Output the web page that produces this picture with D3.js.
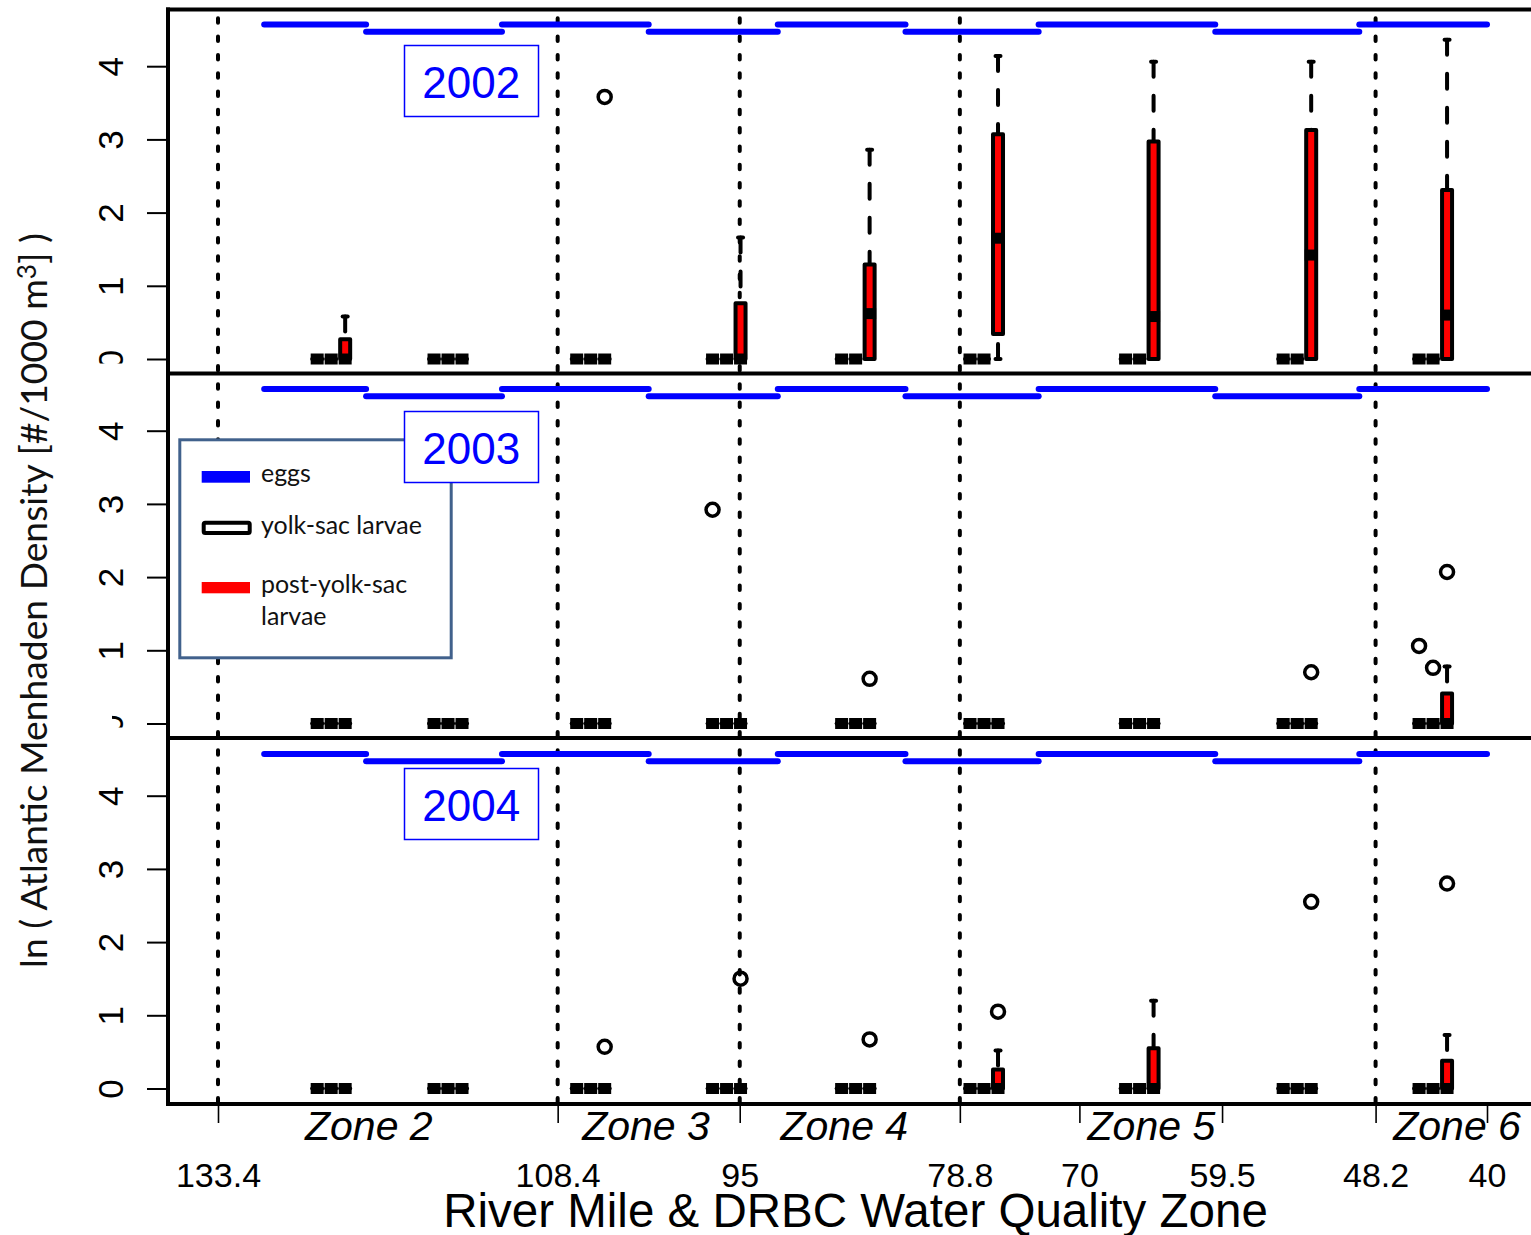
<!DOCTYPE html>
<html><head><meta charset="utf-8">
<script src="https://cdn.jsdelivr.net/npm/d3@7"></script>
<style>body{margin:0;background:#fff}</style>
</head><body>
<svg id="c" width="1531" height="1235"></svg>
<script>
// ---------------- data ----------------
const years = ["2002", "2003", "2004"];
// river mile of the first box of each station triplet
const stationMile = [126.1, 117.5, 107.0, 97.0, 87.5, 78.05, 66.6, 55.0, 45.0];
const zoneBoundaries = [133.4, 108.4, 95, 78.8, 48.2];
const xTickMiles = [133.4, 108.4, 95, 78.8, 70, 59.5, 48.2, 40];
const zoneNames = ["Zone 2", "Zone 3", "Zone 4", "Zone 5", "Zone 6"];
const zoneLabelMile = [122.3, 101.9, 87.3, 64.7, 42.2];
const eggReachBreaks = [130, 122.5, 112.5, 101.7, 92.2, 82.8, 73.0, 60.0, 49.4, 40.0];
const eggReachLevel = [4.57, 4.47, 4.57, 4.47, 4.57, 4.47, 4.57, 4.47, 4.57];
const yTicks = [0, 1, 2, 3, 4];
const seriesNames = ["eggs", "yolk-sac larvae", "post-yolk-sac larvae"];

// box stats: [lower whisker, q1, median, q3, upper whisker]
const Z = [0, 0, 0, 0, 0];
const eggs2002 = [Z, Z, Z, Z, Z, Z, Z, Z, Z];
const yolk2002 = [Z, Z, Z, Z, Z, Z, Z, Z, Z];
const post2002 = [[0,0,0,0.27,0.58], Z, Z, [0,0,0,0.76,1.66], [0,0,0.62,1.29,2.86],
                  [0,0.34,1.65,3.07,4.14], [0,0,0.58,2.97,4.06], [0,0,1.42,3.13,4.06], [0,0,0.60,2.31,4.36]];
const eggs2003 = [Z, Z, Z, Z, Z, Z, Z, Z, Z];
const yolk2003 = [Z, Z, Z, Z, Z, Z, Z, Z, Z];
const post2003 = [Z, Z, Z, Z, Z, Z, Z, Z, [0,0,0,0.41,0.78]];
const eggs2004 = [Z, Z, Z, Z, Z, Z, Z, Z, Z];
const yolk2004 = [Z, Z, Z, Z, Z, Z, Z, Z, Z];
const post2004 = [Z, Z, Z, Z, Z, [0,0,0,0.26,0.52], [0,0,0,0.55,1.20], Z, [0,0,0,0.38,0.73]];
// outliers: [station index, series index, value]
const out2002 = [[2, 2, 3.58]];
const out2003 = [[3, 0, 2.92], [4, 2, 0.61], [7, 2, 0.70], [8, 0, 1.06], [8, 1, 0.76], [8, 2, 2.07]];
const out2004 = [[2, 2, 0.57], [3, 2, 1.50], [4, 2, 0.67], [5, 2, 1.05], [7, 2, 2.55], [8, 2, 2.80]];

const boxesByYear = [[eggs2002, yolk2002, post2002], [eggs2003, yolk2003, post2003], [eggs2004, yolk2004, post2004]];
const outByYear = [out2002, out2003, out2004];

// ---------------- layout / style ----------------
const W = 1531, H = 1235;
const SANS = "'Liberation Sans', Arial, sans-serif";
const CAL = "Lato, 'Open Sans', sans-serif";
const BLUE = "#0000ff", RED = "#ff0000";
const seriesFill = [BLUE, "#ffffff", RED];
const boxStepMile = 1.03;
const borders = [9.5, 373.5, 738, 1104];
const zeroY = [359, 723.5, 1088.5];
const unitPx = 73.2;
const yearBoxTop = [45.5, 411.5, 768.5];

const svg = d3.select("#c");
svg.append("rect").attr("width", W).attr("height", H).attr("fill", "#fff");

const x = d3.scaleLinear().domain([133.4, 40]).range([218, 1487]);
const ys = zeroY.map(z0 => d3.scaleLinear().domain([0, 4]).range([z0, z0 - 4 * unitPx]));

// dotted zone boundaries
svg.append("g").selectAll("line").data(zoneBoundaries).join("line")
  .attr("x1", d => x(d)).attr("x2", d => x(d))
  .attr("y1", 11).attr("y2", 1104)
  .attr("stroke", "#000").attr("stroke-width", 4)
  .attr("stroke-linecap", "round")
  .attr("stroke-dasharray", "4.5,13.8").attr("stroke-dashoffset", 11);

function drawBox(g, cx, s, fill, y) {
  const [lo, q1, med, q3, hi] = s;
  const line = (x1, y1, x2, y2) => g.append("line").attr("x1", x1).attr("y1", y1).attr("x2", x2).attr("y2", y2).attr("stroke", "#000");
  if (hi > q3) line(cx, y(hi), cx, y(q3)).attr("stroke-width", 4).attr("stroke-linecap", "round").attr("stroke-dasharray", "15,19");
  if (lo < q1) line(cx, y(lo), cx, y(q1)).attr("stroke-width", 4).attr("stroke-linecap", "round").attr("stroke-dasharray", "15,19");
  [lo, hi].forEach(v => line(cx - 2.5, y(v), cx + 2.5, y(v)).attr("stroke-width", 4).attr("stroke-linecap", "round"));
  if (q3 > q1) {
    g.append("rect").attr("x", cx - 5).attr("y", y(q3)).attr("width", 10).attr("height", y(q1) - y(q3))
      .attr("fill", fill).attr("stroke", "#000").attr("stroke-width", 4).attr("stroke-linejoin", "round");
  } else {
    line(cx - 5, y(q1), cx + 5, y(q1)).attr("stroke-width", 4).attr("stroke-linecap", "round");
  }
  line(cx - 6.5, y(med), cx + 6.5, y(med)).attr("stroke-width", 11);
}

ys.forEach((y, p) => {
  const g = svg.append("g");
  // egg reach lines
  g.selectAll("line.egg").data(eggReachLevel).join("line").attr("class", "egg")
    .attr("x1", (d, i) => x(eggReachBreaks[i])).attr("x2", (d, i) => x(eggReachBreaks[i + 1]))
    .attr("y1", d => y(d)).attr("y2", d => y(d))
    .attr("stroke", BLUE).attr("stroke-width", 6).attr("stroke-linecap", "round");
  // boxes
  const gb = g.append("g");
  stationMile.forEach((m, si) => {
    boxesByYear[p].forEach((ser, k) => {
      drawBox(gb, x(m - k * boxStepMile), ser[si], seriesFill[k], y);
    });
  });
  // outliers
  g.selectAll("circle").data(outByYear[p]).join("circle")
    .attr("cx", d => x(stationMile[d[0]] - d[1] * boxStepMile))
    .attr("cy", d => y(d[2])).attr("r", 6.5)
    .attr("fill", "none").attr("stroke", "#000").attr("stroke-width", 3.5);
});

// legend (in 2003 panel)
const lg = svg.append("g");
lg.append("rect").attr("x", 179.8).attr("y", 439.8).attr("width", 271.4).attr("height", 218)
  .attr("fill", "#fff").attr("stroke", "#41618c").attr("stroke-width", 3);
lg.append("rect").attr("x", 201.7).attr("y", 471).attr("width", 48.3).attr("height", 11.7).attr("fill", BLUE);
lg.append("rect").attr("x", 203.7).attr("y", 522.7).attr("width", 46).attr("height", 10.3).attr("rx", 1.5)
  .attr("fill", "#fff").attr("stroke", "#000").attr("stroke-width", 4);
lg.append("rect").attr("x", 201.7).attr("y", 582).attr("width", 48.3).attr("height", 11.3).attr("fill", RED);
const legendLines = [[seriesNames[0], 482], [seriesNames[1], 534], ["post-yolk-sac", 593], ["larvae", 625]];
const lt = lg.selectAll("text").data(legendLines).join("text")
  .attr("x", 261).attr("y", d => d[1]).text(d => d[0])
  .attr("font-family", CAL).attr("font-size", 22).attr("fill", "#111");
{
  const n = lt.filter((d, i) => i === 1).node();
  const fs = 22 * 161 / n.getComputedTextLength();
  lt.attr("font-size", fs);
}

// year boxes
years.forEach((yr, p) => {
  svg.append("rect").attr("x", 404.5).attr("y", yearBoxTop[p]).attr("width", 134).attr("height", 71)
    .attr("fill", "#fff").attr("stroke", BLUE).attr("stroke-width", 1.5);
  svg.append("text").attr("x", 471.3).attr("y", yearBoxTop[p] + 52.8).attr("text-anchor", "middle")
    .attr("font-family", SANS).attr("font-size", 44).attr("fill", BLUE).text(yr);
});

// y axes
const defs = svg.append("defs");
ys.forEach((y, p) => {
  const g = svg.append("g").attr("transform", "translate(168,0)")
    .call(d3.axisLeft(y).tickValues(yTicks).tickSize(21).tickPadding(0).tickFormat(d3.format("d")));
  g.attr("font-family", SANS).attr("font-size", 35);
  g.select(".domain").remove();
  g.selectAll(".tick line").attr("stroke", "#000").attr("stroke-width", 2);
  g.selectAll(".tick text").attr("x", 0).attr("dy", null).attr("text-anchor", "middle")
    .attr("fill", "#000").attr("transform", "translate(-45.5,0) rotate(-90)");
  if (p < 2) {
    const id = "clip0_" + p;
    const c = defs.append("clipPath").attr("id", id);
    if (p === 0) c.append("rect").attr("x", -4).attr("y", -200).attr("width", 300).attr("height", 400);
    else c.append("rect").attr("x", -3.5).attr("y", -10.5).attr("width", 300).attr("height", 300);
    g.selectAll(".tick").filter(d => d === 0).select("text").attr("clip-path", `url(#${id})`);
  }
});

// frame lines
const fr = svg.append("g").attr("stroke", "#000").attr("stroke-width", 4);
borders.forEach(b => fr.append("line").attr("x1", 166).attr("x2", W + 5).attr("y1", b).attr("y2", b));
fr.append("line").attr("x1", 168).attr("x2", 168).attr("y1", 7.5).attr("y2", 1106);

// x axis
const gx = svg.append("g").attr("transform", "translate(0,1104)")
  .call(d3.axisBottom(x).tickValues(xTickMiles).tickSize(19).tickFormat(d => String(d)));
gx.attr("font-family", SANS).attr("font-size", 34);
gx.select(".domain").remove();
gx.selectAll(".tick line").attr("stroke", "#000").attr("stroke-width", 1.6);
gx.selectAll(".tick text").attr("y", 83).attr("dy", null).attr("fill", "#000");

// zone labels
svg.append("g").selectAll("text").data(zoneNames).join("text")
  .attr("x", (d, i) => x(zoneLabelMile[i])).attr("y", 1140).attr("text-anchor", "middle")
  .attr("font-family", SANS).attr("font-style", "italic").attr("font-size", 41).attr("fill", "#000")
  .text(d => d);

// x title
const xt = svg.append("text").attr("x", 855.5).attr("y", 1227).attr("text-anchor", "middle")
  .attr("font-family", SANS).attr("font-size", 47).attr("fill", "#000")
  .text("River Mile & DRBC Water Quality Zone");
xt.attr("font-size", 47 * 825 / xt.node().getComputedTextLength());

// y title
const yt = svg.append("text").attr("transform", "translate(47,600.5) rotate(-90)").attr("text-anchor", "middle")
  .attr("font-family", CAL).attr("font-size", 38).attr("fill", "#111");
yt.append("tspan").text("ln ( Atlantic Menhaden Density [#/1000 m");
yt.append("tspan").attr("dy", "-0.42em").attr("font-size", "0.7em").text("3");
yt.append("tspan").attr("dy", "0.3em").text("] )");
yt.attr("font-size", 38 * 735 / yt.node().getComputedTextLength());
</script>
</body></html>
